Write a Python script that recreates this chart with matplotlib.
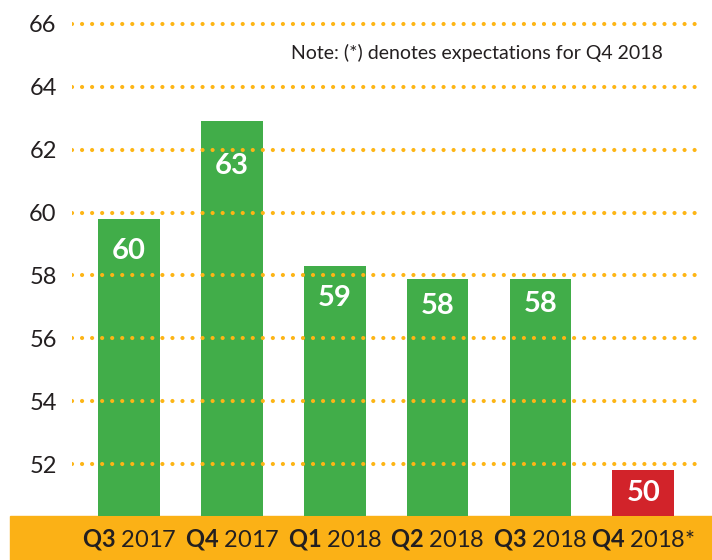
import matplotlib.pyplot as plt
from matplotlib.patches import Rectangle
import numpy as np

# data
quarters = ['Q3', 'Q4', 'Q1', 'Q2', 'Q3', 'Q4']
years = ['2017', '2017', '2018', '2018', '2018', '2018*']
values = [59.8, 62.9, 58.3, 57.9, 57.9, 51.8]
value_labels = ['60', '63', '59', '58', '58', '50']
bar_colors = ['#41ad49', '#41ad49', '#41ad49', '#41ad49', '#41ad49', '#d2232a']
y_ticks = [52, 54, 56, 58, 60, 62, 64, 66]

# how far below the bar top each label sits (points)
label_offsets = [-23, -32, -23, -20, -18, -16]

plt.rcParams['font.family'] = ['Lato', 'DejaVu Sans']
plt.rcParams['mathtext.fontset'] = 'custom'
plt.rcParams['mathtext.bf'] = 'Lato:bold'
plt.rcParams['mathtext.rm'] = 'Lato'

text_color = '#231f20'
orange = '#fbb116'

fig = plt.figure(figsize=(7.12, 5.6), dpi=100)
ax = fig.add_axes([72/712, 44/560, (704-72)/712, (516-10)/560])
ax.set_facecolor('none')

# orange band behind the x labels
fig.add_artist(Rectangle((10/712, 0), 702/712, 44/560, transform=fig.transFigure,
                         color=orange, zorder=-1))

x = np.arange(len(values))
bars = ax.bar(x, values, width=0.6, color=bar_colors, zorder=1)

# dotted grid lines on top of the bars
for t in y_ticks:
    ax.axhline(t, color='#fdb515', linewidth=3, linestyle=(0, (0.01, 2.4)),
               dash_capstyle='round', zorder=2)

for bar, lab, off in zip(bars, value_labels, label_offsets):
    ax.annotate(lab, xy=(bar.get_x() + bar.get_width()/2, bar.get_height()),
                xytext=(0, off), textcoords='offset points', ha='center', va='center',
                color='white', fontsize=21, fontweight='bold', zorder=3)

ax.set_xlim(-0.555, 5.59)
ax.set_ylim(50.35, 66.44)
ax.set_yticks(y_ticks)
ax.set_yticklabels([str(t) for t in y_ticks], fontsize=17, color=text_color)
ax.set_xticks(x)
ax.set_xticklabels([r'$\mathbf{%s}$ %s' % (q, y) for q, y in zip(quarters, years)],
                   fontsize=17, color=text_color)
ax.tick_params(axis='y', length=0, pad=11)
ax.tick_params(axis='x', length=0, pad=8)
for s in ax.spines.values():
    s.set_visible(False)

ax.text(0.935, 0.915, 'Note: (*) denotes expectations for Q4 2018', transform=ax.transAxes,
        ha='right', va='center', fontsize=14, color=text_color)

fig.savefig('out.png', dpi=100)
